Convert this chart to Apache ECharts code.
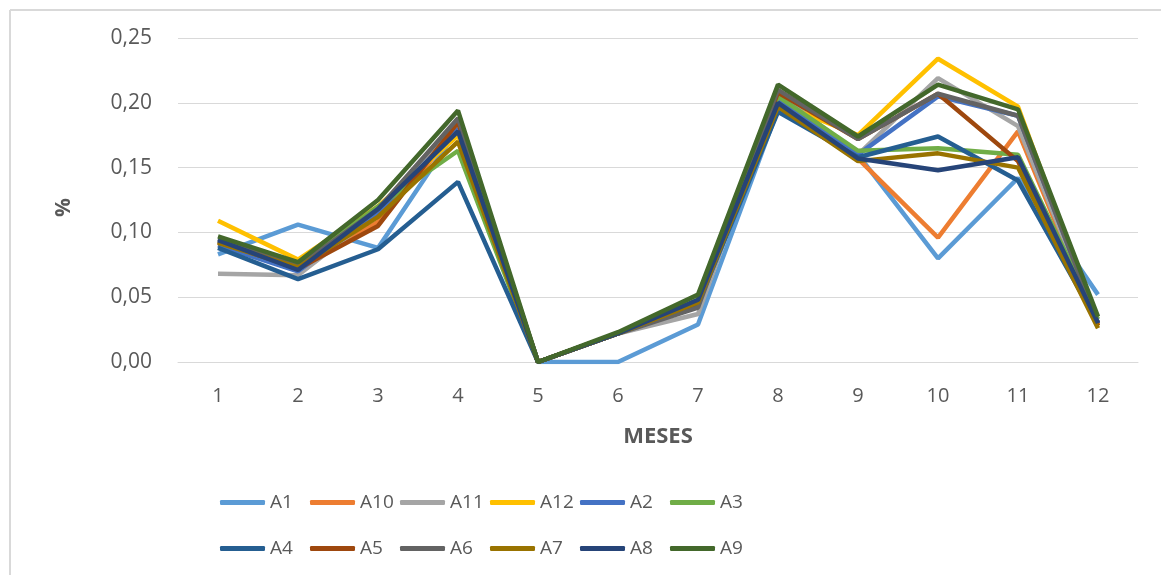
<!DOCTYPE html>
<html><head><meta charset="utf-8">
<script src="https://cdn.jsdelivr.net/npm/echarts@6/dist/echarts.min.js"></script>
<style>html,body{margin:0;padding:0;background:#fff}#c{width:1161px;height:575px}</style>
</head><body><div id="c"></div>
<script>
const months = ['1','2','3','4','5','6','7','8','9','10','11','12'];
const seriesNames = ['A1','A10','A11','A12','A2','A3','A4','A5','A6','A7','A8','A9'];
const colors = ['#5B9BD5','#ED7D31','#A5A5A5','#FFC000','#4472C4','#70AD47','#255E91','#9E480E','#636363','#997300','#264478','#43682B'];
const A1  = [0.083,0.106,0.088,0.180,0,0.000,0.029,0.195,0.160,0.080,0.142,0.052];
const A10 = [0.092,0.072,0.108,0.180,0,0.022,0.045,0.205,0.157,0.096,0.178,0.028];
const A11 = [0.068,0.067,0.115,0.185,0,0.022,0.037,0.208,0.160,0.219,0.182,0.030];
const A12 = [0.109,0.079,0.120,0.175,0,0.022,0.045,0.200,0.175,0.234,0.197,0.028];
const A2  = [0.090,0.070,0.115,0.180,0,0.022,0.047,0.203,0.160,0.205,0.190,0.030];
const A3  = [0.093,0.075,0.120,0.163,0,0.022,0.048,0.205,0.163,0.165,0.160,0.033];
const A4  = [0.088,0.064,0.087,0.139,0,0.022,0.045,0.193,0.158,0.174,0.140,0.030];
const A5  = [0.093,0.072,0.105,0.185,0,0.022,0.046,0.208,0.172,0.207,0.155,0.028];
const A6  = [0.095,0.074,0.118,0.188,0,0.022,0.042,0.210,0.172,0.207,0.190,0.030];
const A7  = [0.092,0.073,0.112,0.170,0,0.022,0.046,0.197,0.155,0.161,0.150,0.026];
const A8  = [0.094,0.071,0.118,0.178,0,0.022,0.048,0.200,0.157,0.148,0.158,0.030];
const A9  = [0.097,0.077,0.125,0.194,0,0.023,0.052,0.214,0.174,0.214,0.195,0.035];
const seriesData = [A1,A10,A11,A12,A2,A3,A4,A5,A6,A7,A8,A9];

const chart = echarts.init(document.getElementById('c'));
const fmt = v => v.toFixed(2).replace('.', ',');
const FONT = '"Open Sans", sans-serif';
const legends = seriesNames.map((n,i)=>({
  data:[n], left:220 + (i%6)*90, top: i<6 ? 493 : 539,
  itemWidth:45, itemHeight:5, icon:'roundRect', padding:0,
  textStyle:{color:'#595959', fontFamily:FONT, fontSize:19}
}));
chart.setOption({
  animation:false,
  backgroundColor:'#fff',
  color: colors,
  graphic:[
    {type:'line', shape:{x1:10,y1:10,x2:1161,y2:10}, style:{stroke:'#d9d9d9',lineWidth:2}},
    {type:'line', shape:{x1:10,y1:10,x2:10,y2:575}, style:{stroke:'#d9d9d9',lineWidth:2}},
    {type:'text', left:54, top:198, rotation:Math.PI/2, style:{text:'%', font:'bold 21px "Open Sans", sans-serif', fill:'#595959'}}
  ],
  grid:{left:178, right:23, top:38, bottom:213},
  legend: legends,
  xAxis:{type:'category', data:months, boundaryGap:true,
    name:'MESES', nameLocation:'middle', nameGap:64,
    nameTextStyle:{fontSize:22, fontWeight:'bold', color:'#595959', fontFamily:FONT},
    axisLine:{lineStyle:{color:'#d9d9d9'}}, axisTick:{show:false},
    axisLabel:{fontSize:20, color:'#595959', margin:24, fontFamily:FONT}},
  yAxis:{type:'value', min:0, max:0.25, interval:0.05,
    axisLine:{show:false}, axisTick:{show:false},
    splitLine:{lineStyle:{color:'#d9d9d9', width:1}},
    axisLabel:{fontSize:21, color:'#595959', margin:26, formatter:fmt, fontFamily:FONT}},
  series: seriesNames.map((n,i)=>({name:n, type:'line', data:seriesData[i], showSymbol:false, symbol:'none',
    lineStyle:{width:4.5, color:colors[i]}, itemStyle:{color:colors[i]}}))
});
</script></body></html>
